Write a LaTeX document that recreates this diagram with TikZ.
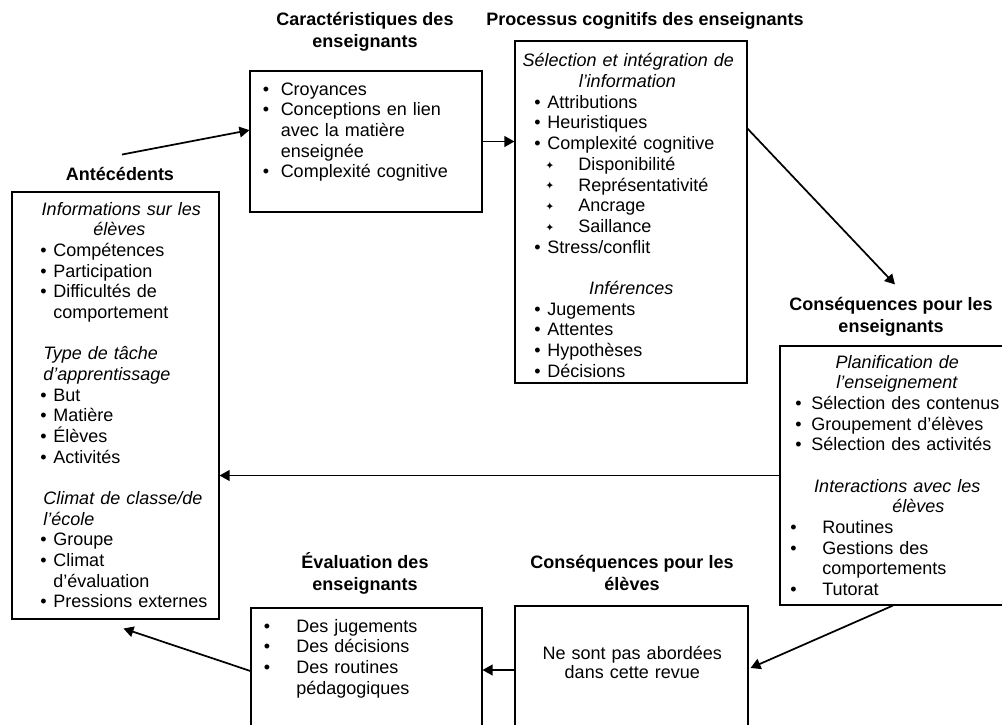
\documentclass[tikz,border=0pt]{standalone}
\usepackage{fontspec}
\setmainfont{Liberation Sans}
\newfontfamily\symfont{DejaVu Sans}
\usetikzlibrary{fit,calc,arrows.meta}

\newlength\px
\setlength\px{0.75pt}
\newlength\tmpw
\newcommand\itm[3]{\hspace*{#1\px}\makebox[\dimexpr#2\px-#1\px\relax][l]{\textbullet}#3}
\newcommand\subitm[3]{\hspace*{#1\px}\makebox[\dimexpr#2\px-#1\px\relax][l]{\raisebox{0.8pt}{\symfont\fontsize{8}{8}\selectfont ✦}}#3}
\newcommand\cont[2]{\hspace*{#1\px}#2}
\newcommand\ctl[2]{\settowidth\tmpw{#2}\hspace*{\dimexpr#1\px-0.5\tmpw\relax}#2}

\begin{document}
\begin{tikzpicture}[x=0.75pt, y=-0.75pt,
  box/.style={draw, line width=0.8pt, inner sep=0pt},
  lst/.style={inner sep=0pt, text width=300\px, align=left, anchor=base west,
    font=\fontsize{13.5}{15.5}\selectfont},
  ttl/.style={inner sep=0pt, align=center, anchor=base,
    font=\bfseries\fontsize{13.5}{16.5}\selectfont},
  arr/.style={-{Triangle[length=7.5pt, width=8pt]}, line width=1.3pt}]
  \useasboundingbox (0,0) rectangle (1002,724);
  \fill[white] (0,0) rectangle (1002,724);
  \clip (0,0) rectangle (1002,724);

  \node[box, fit={(12,192) (219,619)}] (ant) {};
  \node[box, fit={(250,71) (482,212)}] (car) {};
  \node[box, fit={(515,41) (747,383)}] (proc) {};
  \node[box, fit={(780,346) (1006,605)}] (cons) {};
  \node[box, fit={(251,608) (482,734)}] (eval) {};
  \node[box, fit={(515,606) (748,734)}] (elev) {};

  \node[ttl] (antT) at (120,180) {Antécédents};
  \node[ttl] (carT) at (365,48) {Caractéristiques des\\enseignants};
  \node[ttl] (procT) at (645,26) {Processus cognitifs des enseignants};
  \node[ttl] (consT) at (891,332) {Conséquences pour les\\enseignants};
  \node[ttl] (evalT) at (365,590) {Évaluation des\\enseignants};
  \node[ttl] (elevT) at (632,590) {Conséquences pour les\\élèves};

  \node[lst] (antL) at (12,215) {%
    \ctl{109}{\textit{Informations sur les}}\\
    \ctl{107}{\textit{élèves}}\\
    \itm{28}{41}{Compétences}\\
    \itm{28}{41}{Participation}\\
    \itm{28}{41}{Difficultés de}\\
    \cont{41}{comportement}\\[15.5pt]
    \cont{31}{\textit{Type de tâche}}\\
    \cont{31}{\textit{d’apprentissage}}\\
    \itm{28}{41}{But}\\
    \itm{28}{41}{Matière}\\
    \itm{28}{41}{Élèves}\\
    \itm{28}{41}{Activités}\\[15.5pt]
    \cont{31}{\textit{Climat de classe/de}}\\
    \cont{31}{\textit{l’école}}\\
    \itm{28}{41}{Groupe}\\
    \itm{28}{41}{Climat}\\
    \cont{41}{d’évaluation}\\
    \itm{28}{41}{Pressions externes}};

  \node[lst] (carL) at (250,95) {%
    \itm{12.5}{30.5}{Croyances}\\
    \itm{12.5}{30.5}{Conceptions en lien}\\
    \cont{30.5}{avec la matière}\\
    \cont{30.5}{enseignée}\\
    \itm{12.5}{30.5}{Complexité cognitive}};

  \node[lst] (procL) at (515,67) {%
    \ctl{113}{\textit{Sélection et intégration de}}\\
    \ctl{112}{\textit{l’information}}\\
    \itm{19}{32}{Attributions}\\
    \itm{19}{32}{Heuristiques}\\
    \itm{19}{32}{Complexité cognitive}\\
    \subitm{30}{63}{Disponibilité}\\
    \subitm{30}{63}{Représentativité}\\
    \subitm{30}{63}{Ancrage}\\
    \subitm{30}{63}{Saillance}\\
    \itm{19}{32}{Stress/conflit}\\[15.5pt]
    \ctl{116}{\textit{Inférences}}\\
    \itm{19}{32}{Jugements}\\
    \itm{19}{32}{Attentes}\\
    \itm{19}{32}{Hypothèses}\\
    \itm{19}{32}{Décisions}};

  \node[lst] (consL) at (780,368) {%
    \ctl{117}{\textit{Planification de}}\\
    \ctl{117}{\textit{l’enseignement}}\\
    \itm{15}{31}{Sélection des contenus}\\
    \itm{15}{31}{Groupement d’élèves}\\
    \itm{15}{31}{Sélection des activités}\\[15.5pt]
    \ctl{117}{\textit{Interactions avec les}}\\
    \ctl{138}{\textit{élèves}}\\
    \itm{10}{42}{Routines}\\
    \itm{10}{42}{Gestions des}\\
    \cont{42}{comportements}\\
    \itm{10}{42}{Tutorat}};

  \node[lst] (evalL) at (251,632) {%
    \itm{12.5}{45}{Des jugements}\\
    \itm{12.5}{45}{Des décisions}\\
    \itm{12.5}{45}{Des routines}\\
    \cont{45}{pédagogiques}};

  \node[lst] (elevL) at (515,659) {%
    \ctl{117}{Ne sont pas abordées}\\[-1.2pt]
    \ctl{117}{dans cette revue}};

  \coordinate (s1) at ($(antT.north)+(2,-12)$);
  \draw[arr] (s1) -- ($(car.north west)!0.42!(car.south west)$);
  \draw[arr] (car.east) -- (car.east -| proc.west);
  \draw[arr] ($(proc.north east)!0.257!(proc.south east)$) -- ($(cons.north)+(2,-61)$);
  \draw[arr] (cons.west) -- (cons.west -| ant.east);
  \draw[arr] (cons.south) -- ($(elev.east)+(2,-2)$);
  \draw[arr] (elev.west) -- (elev.west -| eval.east);
  \draw[arr] (eval.west) -- ($(ant.south)+(8,9)$);
\end{tikzpicture}
\end{document}
